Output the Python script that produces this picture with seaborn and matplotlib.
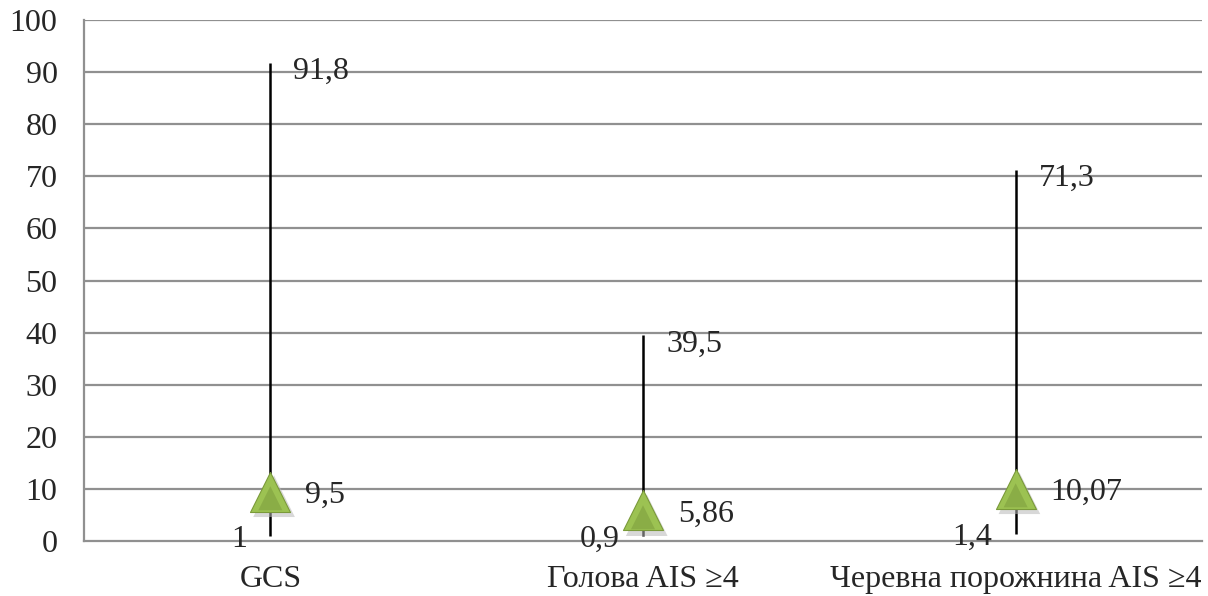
import matplotlib
matplotlib.use("Agg")
import matplotlib.pyplot as plt
import seaborn as sns
import pandas as pd

categories = ["GCS", "Голова AIS ≥4", "Черевна порожнина AIS ≥4"]
low_values = [1.0, 0.9, 1.4]
mid_values = [9.5, 5.86, 10.07]
high_values = [91.8, 39.5, 71.3]
low_labels = ["1", "0,9", "1,4"]
mid_labels = ["9,5", "5,86", "10,07"]
high_labels = ["91,8", "39,5", "71,3"]
y_ticks = list(range(0, 101, 10))

sns.set_theme(style="white")
plt.rcParams["font.family"] = ["Liberation Serif", "DejaVu Serif"]

df = pd.DataFrame({"cat": categories, "low": low_values, "mid": mid_values,
                   "high": high_values})
df["x"] = range(len(df))

fig = plt.figure(figsize=(12.08, 5.96), dpi=100)
ax = fig.add_axes([84 / 1208, 55 / 596, 1118 / 1208, 521 / 596])

# horizontal gridlines
for t in y_ticks[1:]:
    ax.axhline(t, color="#909090", lw=1.6, zorder=0)

# high-low lines
ax.vlines(df["x"], df["low"], df["high"], color="black", lw=1.8, zorder=2)

# soft shadow under the markers
sns.scatterplot(x=df["x"] + 0.01, y=df["mid"] - 0.9, marker="^", s=900,
                color="#b8b8b8", edgecolor="none", alpha=0.55, ax=ax,
                zorder=3, legend=False)
# triangle markers
sns.scatterplot(data=df, x="x", y="mid", marker="^", s=830,
                color="#9cc252", edgecolor="#7a9a3a", linewidth=0.8, ax=ax,
                zorder=4, legend=False)
# darker lower facet
sns.scatterplot(x=df["x"], y=df["mid"] - 1.3, marker="^", s=300,
                color="#7f9f3e", edgecolor="none", alpha=0.6, ax=ax,
                zorder=5, legend=False)

fs = 23
for i, row in df.iterrows():
    ax.text(row["x"] + 0.062, row["high"] - 1.0, high_labels[i], fontsize=fs,
            ha="left", va="center_baseline", zorder=6)
    ax.text(row["x"] + 0.094, row["mid"], mid_labels[i], fontsize=fs,
            ha="left", va="center_baseline", zorder=6)
    ax.text(row["x"] - 0.062, row["low"], low_labels[i], fontsize=fs,
            ha="right", va="center_baseline", zorder=6)

ax.set_xlim(-0.5, 2.5)
ax.set_ylim(0, 100)
ax.set_yticks(y_ticks)
ax.set_yticklabels([str(t) for t in y_ticks], fontsize=fs)
ax.set_xticks(df["x"])
ax.set_xticklabels(categories, fontsize=fs)
ax.tick_params(axis="both", length=0)
ax.tick_params(axis="y", pad=19)
ax.tick_params(axis="x", pad=17)
ax.set_xlabel("")
ax.set_ylabel("")

for s in ["top", "right"]:
    ax.spines[s].set_visible(False)
for s in ["left", "bottom"]:
    ax.spines[s].set_color("#909090")
    ax.spines[s].set_linewidth(1.6)

fig.savefig("out.png", dpi=100, facecolor="white")
